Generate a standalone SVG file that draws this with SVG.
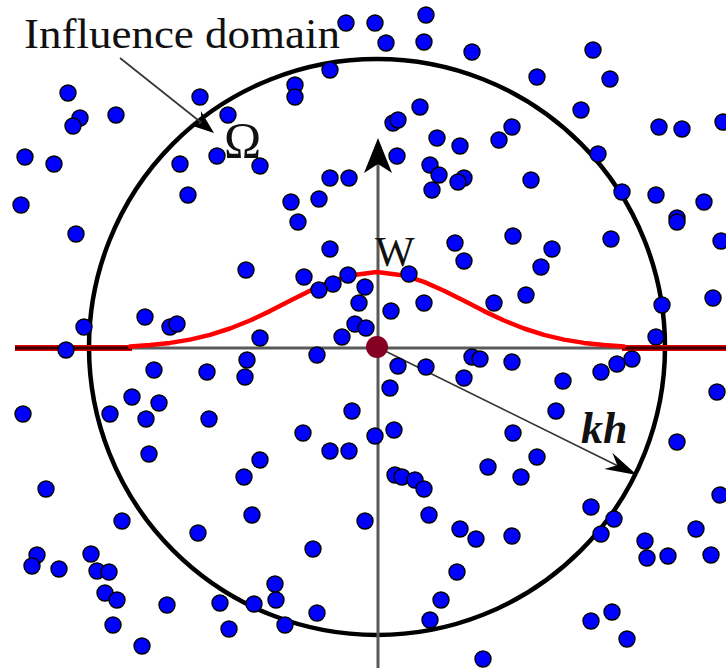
<svg xmlns="http://www.w3.org/2000/svg" width="726" height="670" viewBox="0 0 726 670">
<style>
.pt{fill:#0000ff;stroke:#000;stroke-width:1.4}
.axis{stroke:#5a5a5a;stroke-width:3;fill:none}
.thin{stroke:#333;stroke-width:1.6;fill:none}
.lbl{font-family:"Liberation Serif","Times New Roman",serif;fill:#111}
</style>
<rect width="726" height="670" fill="#fff"/>
<g id="domain">
<circle cx="377" cy="347" r="288" fill="none" stroke="#000" stroke-width="4.5"/>
</g>
<g id="axes">
<line class="axis" x1="130" y1="348" x2="625" y2="348"/>
<line class="axis" x1="378" y1="160" x2="378" y2="668"/>
<polygon points="378,138 392,173 378,164 364,173" fill="#000"/>
</g>
<g id="weight-function">
<line x1="15" y1="348" x2="132" y2="348" stroke="#e00000" stroke-width="6"/>
<line x1="15" y1="348" x2="132" y2="348" stroke="#3a0000" stroke-width="3"/>
<line x1="622" y1="348" x2="726" y2="348" stroke="#e00000" stroke-width="6"/>
<line x1="622" y1="348" x2="726" y2="348" stroke="#3a0000" stroke-width="3"/>
<path d="M130,346.6 L150,345 L170,342.9 L190,339.6 L210,334.9 L230,328.5 L250,320.5 L270,311.1 L290,300.8 L310,290.7 L330,281.9 L350,275.4 L377,272 L404,275.4 L424,281.9 L444,290.7 L464,300.8 L484,311.1 L504,320.5 L524,328.5 L544,334.9 L564,339.6 L584,342.9 L604,345 L624,346.6" fill="none" stroke="#ff0000" stroke-width="4.5" stroke-linejoin="round" stroke-linecap="round"/>
</g>
<g id="connectors">
<line class="thin" x1="120" y1="58" x2="203" y2="124"/>
<polygon points="214,133 189.7,125 201.5,123 200.9,111" fill="#000"/>
<line class="thin" x1="377" y1="347" x2="618" y2="466"/>
<polygon points="637,475 604.3,469 617.3,465.3 612.3,452.8" fill="#000"/>
</g>
<g id="points">
<circle class="pt" cx="68" cy="93" r="8"/>
<circle class="pt" cx="80" cy="118" r="8"/>
<circle class="pt" cx="73" cy="126" r="8"/>
<circle class="pt" cx="116" cy="115" r="8"/>
<circle class="pt" cx="25" cy="157" r="8"/>
<circle class="pt" cx="54" cy="164" r="8"/>
<circle class="pt" cx="21" cy="205" r="8"/>
<circle class="pt" cx="200" cy="97" r="8"/>
<circle class="pt" cx="228" cy="115" r="8"/>
<circle class="pt" cx="217" cy="156" r="8"/>
<circle class="pt" cx="180" cy="164" r="8"/>
<circle class="pt" cx="188" cy="195" r="8"/>
<circle class="pt" cx="346" cy="23" r="8"/>
<circle class="pt" cx="375" cy="23" r="8"/>
<circle class="pt" cx="426" cy="15" r="8"/>
<circle class="pt" cx="386" cy="43" r="8"/>
<circle class="pt" cx="424" cy="42" r="8"/>
<circle class="pt" cx="472" cy="52" r="8"/>
<circle class="pt" cx="330" cy="70" r="8"/>
<circle class="pt" cx="295" cy="85" r="8"/>
<circle class="pt" cx="295" cy="97" r="8"/>
<circle class="pt" cx="420" cy="107" r="8"/>
<circle class="pt" cx="393" cy="123" r="8"/>
<circle class="pt" cx="398" cy="120" r="8"/>
<circle class="pt" cx="437" cy="138" r="8"/>
<circle class="pt" cx="460" cy="146" r="8"/>
<circle class="pt" cx="397" cy="156" r="8"/>
<circle class="pt" cx="260" cy="166" r="8"/>
<circle class="pt" cx="430" cy="165" r="8"/>
<circle class="pt" cx="439" cy="175" r="8"/>
<circle class="pt" cx="432" cy="190" r="8"/>
<circle class="pt" cx="464" cy="178" r="8"/>
<circle class="pt" cx="458" cy="182" r="8"/>
<circle class="pt" cx="330" cy="178" r="8"/>
<circle class="pt" cx="349" cy="178" r="8"/>
<circle class="pt" cx="291" cy="202" r="8"/>
<circle class="pt" cx="319" cy="199" r="8"/>
<circle class="pt" cx="298" cy="222" r="8"/>
<circle class="pt" cx="593" cy="50" r="8"/>
<circle class="pt" cx="537" cy="77" r="8"/>
<circle class="pt" cx="610" cy="79" r="8"/>
<circle class="pt" cx="581" cy="110" r="8"/>
<circle class="pt" cx="512" cy="127" r="8"/>
<circle class="pt" cx="499" cy="140" r="8"/>
<circle class="pt" cx="659" cy="127" r="8"/>
<circle class="pt" cx="682" cy="129" r="8"/>
<circle class="pt" cx="723" cy="122" r="8"/>
<circle class="pt" cx="598" cy="154" r="8"/>
<circle class="pt" cx="531" cy="180" r="8"/>
<circle class="pt" cx="622" cy="192" r="8"/>
<circle class="pt" cx="656" cy="195" r="8"/>
<circle class="pt" cx="704" cy="202" r="8"/>
<circle class="pt" cx="677" cy="218" r="8"/>
<circle class="pt" cx="76" cy="234" r="8"/>
<circle class="pt" cx="145" cy="317" r="8"/>
<circle class="pt" cx="170" cy="327" r="8"/>
<circle class="pt" cx="177" cy="324" r="8"/>
<circle class="pt" cx="84" cy="327" r="8"/>
<circle class="pt" cx="66" cy="350" r="8"/>
<circle class="pt" cx="154" cy="370" r="8"/>
<circle class="pt" cx="207" cy="372" r="8"/>
<circle class="pt" cx="132" cy="397" r="8"/>
<circle class="pt" cx="159" cy="403" r="8"/>
<circle class="pt" cx="110" cy="414" r="8"/>
<circle class="pt" cx="146" cy="419" r="8"/>
<circle class="pt" cx="209" cy="419" r="8"/>
<circle class="pt" cx="23" cy="414" r="8"/>
<circle class="pt" cx="149" cy="454" r="8"/>
<circle class="pt" cx="330" cy="249" r="8"/>
<circle class="pt" cx="455" cy="243" r="8"/>
<circle class="pt" cx="464" cy="261" r="8"/>
<circle class="pt" cx="246" cy="270" r="8"/>
<circle class="pt" cx="304" cy="277" r="8"/>
<circle class="pt" cx="348" cy="275" r="8"/>
<circle class="pt" cx="333" cy="284" r="8"/>
<circle class="pt" cx="319" cy="290" r="8"/>
<circle class="pt" cx="365" cy="287" r="8"/>
<circle class="pt" cx="409" cy="274" r="8"/>
<circle class="pt" cx="359" cy="303" r="8"/>
<circle class="pt" cx="391" cy="311" r="8"/>
<circle class="pt" cx="424" cy="303" r="8"/>
<circle class="pt" cx="355" cy="324" r="8"/>
<circle class="pt" cx="366" cy="328" r="8"/>
<circle class="pt" cx="342" cy="337" r="8"/>
<circle class="pt" cx="260" cy="338" r="8"/>
<circle class="pt" cx="317" cy="355" r="8"/>
<circle class="pt" cx="247" cy="360" r="8"/>
<circle class="pt" cx="245" cy="377" r="8"/>
<circle class="pt" cx="398" cy="366" r="8"/>
<circle class="pt" cx="426" cy="367" r="8"/>
<circle class="pt" cx="472" cy="357" r="8"/>
<circle class="pt" cx="480" cy="359" r="8"/>
<circle class="pt" cx="464" cy="378" r="8"/>
<circle class="pt" cx="390" cy="388" r="8"/>
<circle class="pt" cx="352" cy="411" r="8"/>
<circle class="pt" cx="303" cy="433" r="8"/>
<circle class="pt" cx="375" cy="436" r="8"/>
<circle class="pt" cx="394" cy="430" r="8"/>
<circle class="pt" cx="330" cy="451" r="8"/>
<circle class="pt" cx="349" cy="451" r="8"/>
<circle class="pt" cx="513" cy="236" r="8"/>
<circle class="pt" cx="611" cy="239" r="8"/>
<circle class="pt" cx="552" cy="249" r="8"/>
<circle class="pt" cx="541" cy="267" r="8"/>
<circle class="pt" cx="721" cy="241" r="8"/>
<circle class="pt" cx="526" cy="295" r="8"/>
<circle class="pt" cx="494" cy="303" r="8"/>
<circle class="pt" cx="662" cy="305" r="8"/>
<circle class="pt" cx="713" cy="298" r="8"/>
<circle class="pt" cx="656" cy="337" r="8"/>
<circle class="pt" cx="512" cy="362" r="8"/>
<circle class="pt" cx="632" cy="359" r="8"/>
<circle class="pt" cx="617" cy="364" r="8"/>
<circle class="pt" cx="601" cy="372" r="8"/>
<circle class="pt" cx="563" cy="381" r="8"/>
<circle class="pt" cx="717" cy="392" r="8"/>
<circle class="pt" cx="556" cy="411" r="8"/>
<circle class="pt" cx="513" cy="433" r="8"/>
<circle class="pt" cx="677" cy="442" r="8"/>
<circle class="pt" cx="677" cy="222" r="8"/>
<circle class="pt" cx="46" cy="489" r="8"/>
<circle class="pt" cx="122" cy="521" r="8"/>
<circle class="pt" cx="198" cy="533" r="8"/>
<circle class="pt" cx="37" cy="555" r="8"/>
<circle class="pt" cx="32" cy="566" r="8"/>
<circle class="pt" cx="59" cy="569" r="8"/>
<circle class="pt" cx="91" cy="554" r="8"/>
<circle class="pt" cx="97" cy="571" r="8"/>
<circle class="pt" cx="109" cy="572" r="8"/>
<circle class="pt" cx="105" cy="593" r="8"/>
<circle class="pt" cx="117" cy="600" r="8"/>
<circle class="pt" cx="167" cy="605" r="8"/>
<circle class="pt" cx="220" cy="603" r="8"/>
<circle class="pt" cx="113" cy="625" r="8"/>
<circle class="pt" cx="229" cy="629" r="8"/>
<circle class="pt" cx="142" cy="646" r="8"/>
<circle class="pt" cx="244" cy="477" r="8"/>
<circle class="pt" cx="260" cy="460" r="8"/>
<circle class="pt" cx="252" cy="515" r="8"/>
<circle class="pt" cx="365" cy="521" r="8"/>
<circle class="pt" cx="313" cy="549" r="8"/>
<circle class="pt" cx="275" cy="584" r="8"/>
<circle class="pt" cx="276" cy="600" r="8"/>
<circle class="pt" cx="254" cy="604" r="8"/>
<circle class="pt" cx="317" cy="613" r="8"/>
<circle class="pt" cx="285" cy="625" r="8"/>
<circle class="pt" cx="395" cy="475" r="8"/>
<circle class="pt" cx="402" cy="477" r="8"/>
<circle class="pt" cx="415" cy="480" r="8"/>
<circle class="pt" cx="424" cy="489" r="8"/>
<circle class="pt" cx="429" cy="515" r="8"/>
<circle class="pt" cx="460" cy="529" r="8"/>
<circle class="pt" cx="476" cy="539" r="8"/>
<circle class="pt" cx="457" cy="572" r="8"/>
<circle class="pt" cx="441" cy="600" r="8"/>
<circle class="pt" cx="430" cy="620" r="8"/>
<circle class="pt" cx="488" cy="467" r="8"/>
<circle class="pt" cx="483" cy="659" r="8"/>
<circle class="pt" cx="537" cy="457" r="8"/>
<circle class="pt" cx="521" cy="477" r="8"/>
<circle class="pt" cx="591" cy="507" r="8"/>
<circle class="pt" cx="614" cy="519" r="8"/>
<circle class="pt" cx="601" cy="534" r="8"/>
<circle class="pt" cx="512" cy="536" r="8"/>
<circle class="pt" cx="720" cy="495" r="8"/>
<circle class="pt" cx="696" cy="529" r="8"/>
<circle class="pt" cx="645" cy="541" r="8"/>
<circle class="pt" cx="647" cy="558" r="8"/>
<circle class="pt" cx="668" cy="556" r="8"/>
<circle class="pt" cx="711" cy="555" r="8"/>
<circle class="pt" cx="591" cy="621" r="8"/>
<circle class="pt" cx="612" cy="612" r="8"/>
<circle class="pt" cx="627" cy="639" r="8"/>
</g>
<g id="center-node">
<circle cx="377" cy="347" r="11" fill="#860024"/>
</g>
<g id="labels">
<text class="lbl" x="24" y="48" font-size="42" textLength="316" lengthAdjust="spacingAndGlyphs">Influence domain</text>
<text class="lbl" x="224" y="157" font-size="50">Ω</text>
<text class="lbl" x="375" y="266" font-size="42">W</text>
<text class="lbl" x="581" y="443" font-size="44" font-weight="bold" font-style="italic">kh</text>
</g>
</svg>
